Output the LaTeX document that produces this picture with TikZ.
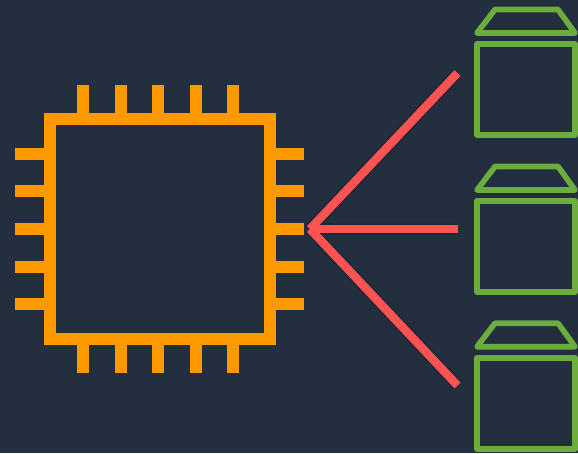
\documentclass[tikz,border=0pt]{standalone}
\definecolor{slatebg}{HTML}{232F3E}
\definecolor{chiporange}{HTML}{FF9900}
\definecolor{boxgreen}{HTML}{6CAE3E}
\definecolor{linkred}{HTML}{FF5252}
\tikzset{
  chipbody/.style={draw=chiporange,line width=12pt,minimum size=220pt,inner sep=0pt,outer sep=0pt},
  chippin/.style={draw=chiporange,line width=12pt},
  boxbody/.style={draw=boxgreen,line width=5.6pt,line join=round,minimum width=98pt,minimum height=91pt,inner sep=0pt,outer sep=0pt},
  boxlid/.style={draw=boxgreen,line width=5.6pt,line join=round},
  linkline/.style={draw=linkred,line width=8.4pt},
  linkshadow/.style={draw=black,opacity=0.10,shift={(2pt,-2pt)}}
}
\begin{document}
\begin{tikzpicture}[x=1pt,y=-1pt]
\fill[slatebg] (0,0) rectangle (578,453);
\useasboundingbox (0,0) rectangle (578,453);

% chip
\node[chipbody] (chip) at (160,229) {};

% chip pins
\foreach \p in {83,120.6,158,195.6,233}{
  \draw[chippin] (\p,119) -- (\p,85);
  \draw[chippin] (\p,339) -- (\p,373);
}
\foreach \p in {153.7,191.3,229,266.6,304.2}{
  \draw[chippin] (50,\p) -- (15,\p);
  \draw[chippin] (270,\p) -- (304,\p);
}

% green boxes
\foreach \n/\y in {1/0,2/157,3/313.7}{
  \node[boxbody] (box\n) at (526,89.5+\y) {};
  \draw[boxlid] (495,9.5+\y) -- (558,9.5+\y) -- (575,33+\y) -- (477,33+\y) -- cycle;
}

% links
\coordinate (hub) at (310,229);
\coordinate (tip1) at (457.5,73);
\coordinate (tip2) at (457.7,229);
\coordinate (tip3) at (457.5,385.5);
\foreach \n in {1,2,3}{
  \draw[linkshadow,line width=12pt] (hub) -- (tip\n);
  \draw[linkshadow,line width=10pt] (hub) -- (tip\n);
}
\foreach \n in {1,2,3}
  \draw[linkline] (hub) -- (tip\n);

\end{tikzpicture}
\end{document}
